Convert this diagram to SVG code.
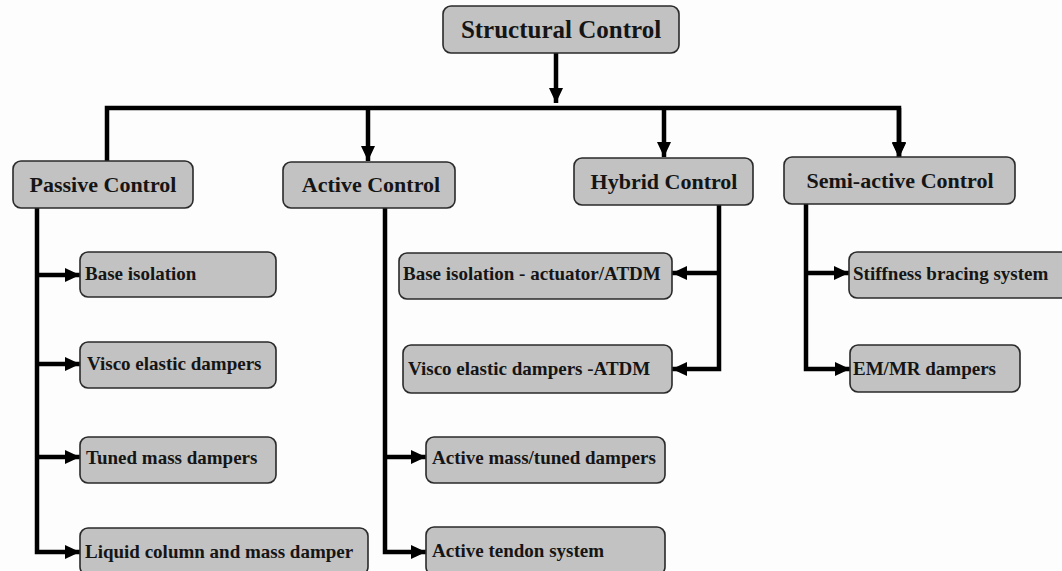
<svg xmlns="http://www.w3.org/2000/svg" width="1062" height="571" viewBox="0 0 1062 571">
<defs>
<style>
.box{fill:#c2c2c2;stroke:#2a2a2a;stroke-width:1.6}
.t{font-family:"Liberation Serif","Times New Roman",serif;font-weight:bold;fill:#151515}
.h0{font-size:25px;text-anchor:middle}
.h1{font-size:22px;text-anchor:middle}
.lf{font-size:19px}
.ln{fill:none;stroke:#000;stroke-width:4.5;stroke-linejoin:miter}
</style>
<marker id="ah" markerUnits="userSpaceOnUse" markerWidth="15" markerHeight="14" refX="15" refY="7" orient="auto">
<path d="M0,0 L15,7 L0,14 z" fill="#000"/>
</marker>
</defs>
<rect width="1062" height="571" fill="#fdfdfd"/>

<g id="connectors">
<path class="ln" d="M556,53 V103" marker-end="url(#ah)"/>
<path class="ln" d="M107,161 V108 H899 V158" marker-end="url(#ah)"/>
<path class="ln" d="M368,108 V161" marker-end="url(#ah)"/>
<path class="ln" d="M664,108 V157" marker-end="url(#ah)"/>
<path class="ln" d="M899,108 V157" marker-end="url(#ah)"/>
<path class="ln" d="M37,208 V552 H80" marker-end="url(#ah)"/>
<path class="ln" d="M37,275 H80" marker-end="url(#ah)"/>
<path class="ln" d="M37,364 H80" marker-end="url(#ah)"/>
<path class="ln" d="M37,457 H80" marker-end="url(#ah)"/>
<path class="ln" d="M385,208 V552 H426" marker-end="url(#ah)"/>
<path class="ln" d="M385,457 H426" marker-end="url(#ah)"/>
<path class="ln" d="M719,205 V369 H672" marker-end="url(#ah)"/>
<path class="ln" d="M719,273 H672" marker-end="url(#ah)"/>
<path class="ln" d="M806,204 V369 H850" marker-end="url(#ah)"/>
<path class="ln" d="M806,273 H849" marker-end="url(#ah)"/>
</g>

<g id="n-structural"><rect class="box" x="443" y="6" width="236" height="47" rx="8"/><text class="t h0" x="561" y="38">Structural Control</text></g>
<g id="n-passive"><rect class="box" x="13" y="161" width="180" height="47" rx="8"/><text class="t h1" x="103" y="192">Passive Control</text></g>
<g id="n-active"><rect class="box" x="283" y="162" width="172" height="46" rx="8"/><text class="t h1" x="371" y="192">Active Control</text></g>
<g id="n-hybrid"><rect class="box" x="574" y="158" width="179" height="47" rx="8"/><text class="t h1" x="664" y="189">Hybrid Control</text></g>
<g id="n-semi"><rect class="box" x="784" y="157" width="231" height="47" rx="8"/><text class="t h1" x="900" y="188">Semi-active Control</text></g>

<g id="n-base"><rect class="box" x="80" y="252" width="196" height="45" rx="8"/><text class="t lf" x="85" y="280">Base isolation</text></g>
<g id="n-visco"><rect class="box" x="80" y="342" width="196" height="46" rx="8"/><text class="t lf" x="87" y="370">Visco elastic dampers</text></g>
<g id="n-tuned"><rect class="box" x="80" y="437" width="196" height="46" rx="8"/><text class="t lf" x="86" y="464">Tuned mass dampers</text></g>
<g id="n-liquid"><rect class="box" x="80" y="528" width="288" height="47" rx="8"/><text class="t lf" x="85" y="558">Liquid column and mass damper</text></g>

<g id="n-activemass"><rect class="box" x="426" y="437" width="239" height="46" rx="8"/><text class="t lf" x="432" y="464">Active mass/tuned dampers</text></g>
<g id="n-tendon"><rect class="box" x="426" y="527" width="239" height="48" rx="8"/><text class="t lf" x="432" y="557">Active tendon system</text></g>

<g id="n-baseact"><rect class="box" x="399" y="253" width="273" height="46" rx="8"/><text class="t lf" x="403" y="280">Base isolation - actuator/ATDM</text></g>
<g id="n-viscoatdm"><rect class="box" x="403" y="345" width="269" height="48" rx="8"/><text class="t lf" x="408" y="375">Visco elastic dampers -ATDM</text></g>

<g id="n-stiff"><rect class="box" x="849" y="252" width="225" height="46" rx="8"/><text class="t lf" x="853" y="280">Stiffness bracing system</text></g>
<g id="n-emmr"><rect class="box" x="850" y="345" width="170" height="47" rx="8"/><text class="t lf" x="853" y="375">EM/MR dampers</text></g>
</svg>
